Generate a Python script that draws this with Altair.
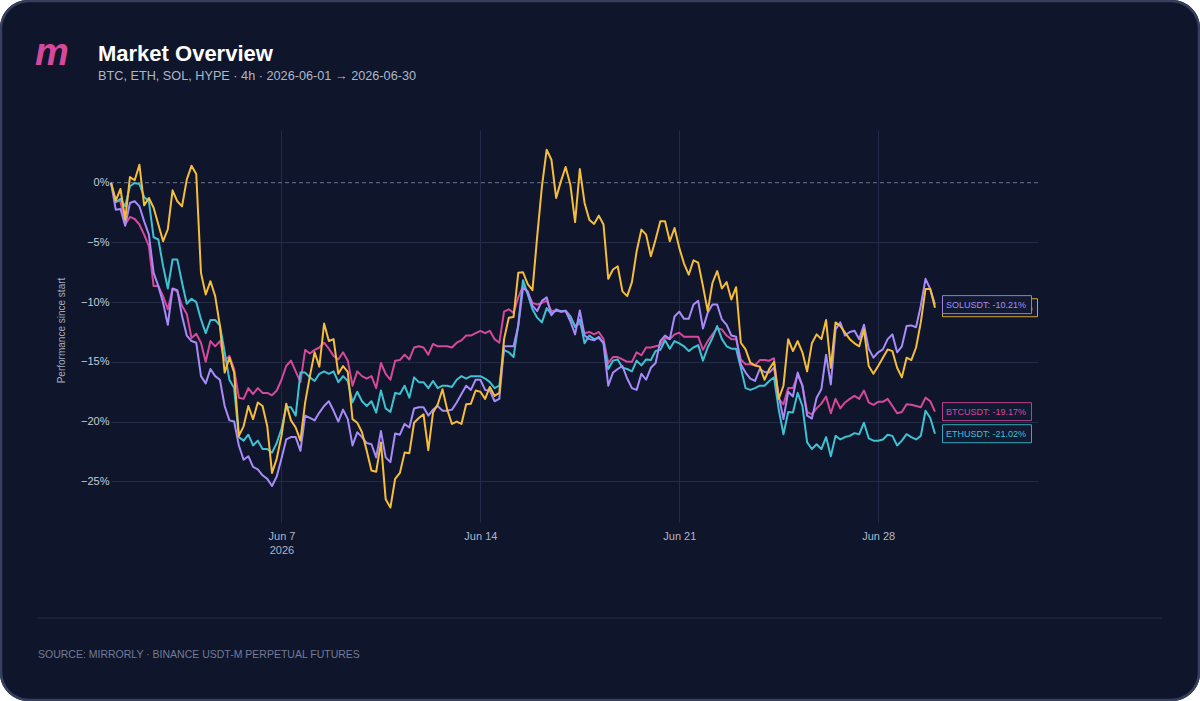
import altair as alt
import pandas as pd

series_names = ["BTCUSDT", "ETHUSDT", "SOLUSDT", "HYPEUSDT"]
series_colors = ["#d6489a", "#3ec1d3", "#a78bfa", "#f5bd3b"]
label_box_widths = [89, 89, 89, 95]
label_order = ["BTCUSDT", "ETHUSDT", "HYPEUSDT", "SOLUSDT"]

# performance since start, in percent, one value every 4h from 2026-06-01 00:00
btc = [0, -1.56, -1.56, -3.5, -2.87, -3.04, -3.5, -4.35, -5.32, -8.66, -8.66, -9.5, -10.6, -8.9, -9.1, -10.3, -11.0, -13.0, -12.65, -13.4, -15.0, -13.26, -13.7, -13.26, -14.9, -14.5, -15.6, -18.0, -18.1, -17.2, -17.7, -17.2, -17.6, -17.6, -17.8, -17.4,
       -16.5, -15.35, -14.9, -15.8, -16.7, -14.0, -14.3, -14.0, -13.8, -13.4, -13.9, -14.5, -14.8, -14.2, -14.9, -17.0, -15.8, -16.2, -16.4, -16.2, -17.2, -15.1, -16.0, -16.5, -14.9, -14.85, -14.4, -14.8, -13.8, -13.7, -13.8, -14.4, -13.5, -13.7, -13.7, -13.7,
       -13.8, -13.4, -13.2, -12.8, -12.8, -12.6, -12.4, -12.6, -12.4, -13.1, -13.4, -10.8, -10.6, -10.9, -9.6, -8.66, -9.2, -10.06, -10.2, -10.06, -9.9, -10.75, -10.7, -10.8, -10.7, -11.2, -12.0, -11.8, -12.6, -12.5, -12.7, -12.5, -13.1, -15.1, -14.6, -14.6,
       -14.8, -15.0, -15.0, -14.2, -14.45, -13.8, -13.8, -13.7, -13.6, -13.0, -13.1, -12.7, -12.56, -12.9, -12.9, -12.9, -12.9, -14.0, -13.26, -12.7, -12.2, -12.3, -12.8, -13.1, -13.1, -14.8, -15.2, -15.2, -15.3, -14.85, -14.85, -14.9, -14.7, -18.1, -18.55, -17.2,
       -17.2, -16.1, -17.0, -19.2, -19.4, -18.9, -18.5, -17.9, -19.3, -18.1, -18.9, -18.4, -18.1, -17.85, -18.1, -17.4, -18.4, -18.6, -18.35, -18.35, -18.1, -18.7, -19.3, -19.2, -18.55, -18.6, -18.7, -18.8, -18.0, -18.3, -19.17]

eth = [0, -1.64, -1.36, -1.98, -0.3, -0.03, -0.11, -1.2, -1.56, -4.57, -4.76, -6.99, -8.86, -6.43, -6.43, -8.38, -10.14, -9.72, -10.0, -11.45, -12.6, -11.5, -11.5, -11.95, -14.2, -16.5, -17.2, -21.3, -21.6, -21.1, -22.0, -21.6, -22.3, -22.3, -22.6, -21.8,
       -20.6, -18.8, -18.8, -19.5, -15.9, -15.9, -16.3, -16.6, -16.0, -15.8, -16.0, -15.8, -16.7, -16.2, -16.6, -18.4, -17.5, -18.3, -18.7, -18.3, -19.25, -17.4, -18.9, -19.2, -17.6, -17.7, -17.0, -18.0, -16.3, -16.7, -16.7, -17.2, -16.6, -17.2, -17.0, -17.0,
       -17.1, -16.5, -16.2, -16.4, -16.2, -16.2, -16.2, -16.4, -16.7, -17.2, -17.0, -14.0, -14.2, -14.6, -11.9, -8.16, -9.36, -10.6, -11.3, -11.7, -10.5, -11.0, -10.7, -10.75, -10.75, -11.2, -12.1, -11.45, -13.45, -12.8, -13.1, -13.0, -13.4, -15.6, -14.9, -14.8,
       -15.5, -15.6, -15.8, -14.9, -15.3, -14.8, -14.85, -14.1, -14.0, -13.2, -13.9, -13.26, -13.45, -13.7, -14.1, -13.8, -13.6, -14.9, -13.8, -13.0, -12.0, -13.1, -13.7, -13.9, -13.9, -15.5, -17.2, -17.35, -17.2, -17.0, -17.0, -16.6, -16.3, -19.0, -21.06, -19.2,
       -19.25, -17.6, -18.7, -21.75, -22.3, -21.9, -22.3, -21.3, -22.9, -21.2, -21.5, -21.3, -21.2, -20.97, -21.06, -20.1, -21.4, -21.6, -21.6, -21.5, -21.1, -21.2, -22.0, -21.6, -21.06, -21.3, -21.5, -21.2, -19.1, -19.7, -21.02]

sol = [0, -2.26, -2.2, -3.6, -1.7, -1.56, -1.98, -3.23, -4.35, -7.55, -8.66, -10.06, -11.9, -8.86, -9.0, -11.17, -12.8, -13.26, -13.4, -16.2, -16.8, -15.6, -16.2, -16.5, -18.7, -19.9, -20.0, -22.0, -23.2, -22.9, -23.8, -24.0, -24.5, -24.8, -25.4, -24.6,
       -23.1, -21.5, -21.3, -21.3, -22.45, -19.5, -19.7, -19.9, -19.25, -18.7, -18.3, -19.1, -20.0, -19.0, -19.8, -22.0, -20.9, -21.3, -21.8, -21.9, -23.0, -20.8, -23.0, -23.4, -21.0, -21.1, -20.2, -20.5, -18.9, -18.8, -18.8, -19.5, -19.0, -18.7, -19.1, -19.1,
       -19.0, -18.4, -17.7, -17.0, -17.35, -16.5, -16.5, -17.35, -17.4, -18.3, -18.1, -13.7, -13.7, -13.7, -12.0, -8.8, -9.1, -10.3, -10.75, -9.9, -9.6, -11.1, -10.6, -10.8, -10.75, -11.6, -12.7, -10.7, -12.8, -13.1, -13.2, -12.9, -13.45, -17.0, -15.9, -15.6,
       -15.35, -16.4, -17.2, -17.35, -16.0, -16.5, -15.5, -15.1, -13.26, -12.8, -13.1, -11.2, -10.8, -11.4, -11.4, -10.2, -9.9, -12.2, -10.9, -10.2, -10.2, -11.45, -11.9, -12.8, -12.9, -15.2, -15.9, -16.4, -16.6, -15.6, -15.85, -15.9, -15.5, -17.85, -19.8, -17.5,
       -17.9, -15.9, -17.0, -19.5, -19.75, -18.0, -17.3, -14.4, -16.9, -12.3, -11.7, -12.8, -12.5, -12.4, -13.1, -11.9, -13.9, -14.65, -14.2, -13.96, -13.1, -12.7, -14.2, -13.7, -12.0, -11.95, -12.1, -10.3, -8.05, -8.9, -10.21]

hype = [0, -1.5, -0.53, -3.1, 0.47, 0.2, 1.5, -1.9, -1.28, -2.1, -3.5, -4.9, -3.9, -0.64, -1.56, -1.98, 0.25, 1.42, 0.72, -7.55, -9.36, -8.25, -9.5, -12.0, -15.9, -14.65, -15.9, -21.2, -20.4, -18.7, -19.8, -18.4, -18.7, -20.4, -24.3, -23.1,
        -21.2, -18.5, -19.9, -20.5, -21.6, -18.4, -16.2, -14.2, -15.4, -11.8, -13.26, -13.1, -16.0, -15.35, -15.85, -19.8, -20.1, -20.9, -22.45, -24.1, -24.2, -21.75, -26.5, -27.2, -24.8, -24.3, -22.6, -22.65, -20.1, -19.7, -19.4, -22.4, -19.25, -18.55, -17.3, -19.0,
        -20.2, -20.0, -20.2, -18.55, -18.5, -17.4, -17.5, -18.1, -17.1, -17.85, -17.6, -13.1, -11.3, -11.25, -7.55, -7.5, -8.5, -9.0, -4.5, -0.3, 2.76, 1.92, -1.28, 0.11, 1.31, -0.17, -3.3, 1.14, -1.7, -3.1, -3.45, -2.76, -3.5, -8.05, -7.27, -7.0,
        -9.1, -9.5, -8.33, -5.74, -3.93, -4.35, -6.16, -4.76, -3.23, -3.23, -4.9, -3.8, -5.46, -6.77, -7.7, -6.5, -6.7, -8.66, -10.75, -8.4, -7.4, -8.86, -8.33, -9.78, -8.75, -13.4, -13.96, -15.07, -15.3, -15.4, -16.5, -15.6, -15.0, -18.1, -17.0, -13.1,
        -14.1, -13.26, -14.2, -15.8, -13.45, -12.7, -13.1, -11.5, -15.5, -11.7, -12.0, -12.56, -13.1, -13.45, -13.7, -12.3, -15.35, -16.0, -15.35, -14.65, -13.96, -14.1, -15.5, -16.3, -14.65, -14.85, -13.8, -11.7, -8.9, -8.9, -10.47]

y_ticks = [0, -0.05, -0.10, -0.15, -0.20, -0.25]
x_tick_days = [7, 14, 21, 28]

FONT = "Liberation Sans"
BG = "#0f162b"
GRID = "#232b46"

start = pd.Timestamp("2026-06-01 00:00")
series_values = {"BTCUSDT": btc, "ETHUSDT": eth, "SOLUSDT": sol, "HYPEUSDT": hype}
rows = []
end_rows = {}
for name in series_names:
    vals = series_values[name]
    for i, v in enumerate(vals):
        t = (start + pd.Timedelta(hours=4 * i)).strftime("%Y-%m-%dT%H:%M:%S")
        rows.append({"t": t, "v": v / 100.0, "s": name})
    end_rows[name] = {"t": rows[-1]["t"], "v": vals[-1] / 100.0,
                      "label": f"{name}: {vals[-1]:.2f}%"}
df = pd.DataFrame(rows)

one = alt.Data(values=[{}])

x_axis = alt.Axis(
    values=[alt.DateTime(year=2026, month=6, date=d) for d in x_tick_days],
    labelExpr="datum.index == 0 ? [timeFormat(datum.value, '%b %-d'), timeFormat(datum.value, '%Y')] : timeFormat(datum.value, '%b %-d')",
    title=None, domain=False, ticks=False, grid=True, gridColor=GRID, gridWidth=1,
    labelColor="#aeb5c7", labelFontSize=11, labelFont=FONT, labelPadding=8,
    labelLineHeight=14, labelFlush=False, labelOverlap=False,
)
y_axis = alt.Axis(
    values=y_ticks, format=".0%", title="Performance since start",
    titleX=-50, titleY=200, titleAngle=270, titleAlign="center", titleBaseline="middle",
    titleFontSize=10, titleFontWeight="normal", titleColor="#a3abbf", titleFont=FONT,
    labelColor="#c6ccd8", labelFontSize=11, labelFont=FONT, labelPadding=2,
    domain=False, ticks=False, grid=True, gridWidth=1,
    gridColor={"condition": {"test": "datum.value === 0", "value": "transparent"}, "value": GRID},
)

x_scale = alt.Scale(domain=[alt.DateTime(year=2026, month=6, date=1),
                            alt.DateTime(year=2026, month=7, date=3, hours=15)])
y_scale = alt.Scale(domain=[-0.2841, 0.0441], nice=False, zero=False)

corners = alt.Chart(one).mark_rect(fillOpacity=0, stroke="#ffffff", strokeWidth=40, cornerRadius=48).encode(
    x=alt.value(-131), x2=alt.value(1109), y=alt.value(-150), y2=alt.value(591))
border = alt.Chart(one).mark_rect(fillOpacity=0, stroke="#363f5e", strokeWidth=2.5, cornerRadius=28).encode(
    x=alt.value(-110), x2=alt.value(1088), y=alt.value(-129), y2=alt.value(570))
separator = alt.Chart(one).mark_rule(color="#252d48", strokeWidth=1).encode(
    x=alt.value(-74), x2=alt.value(1051), y=alt.value(488))
footer = alt.Chart(one).mark_text(
    text="SOURCE: MIRRORLY · BINANCE USDT-M PERPETUAL FUTURES", align="left", baseline="alphabetic",
    fontSize=10.5, color="#737b98", font=FONT).encode(x=alt.value(-73), y=alt.value(528))
title = alt.Chart(one).mark_text(
    text="Market Overview", align="left", baseline="alphabetic", fontSize=22, fontWeight="bold",
    color="#ffffff", font=FONT).encode(x=alt.value(-13), y=alt.value(-69))
subtitle = alt.Chart(one).mark_text(
    text="BTC, ETH, SOL, HYPE · 4h · 2026-06-01 → 2026-06-30", align="left", baseline="alphabetic",
    fontSize=12.7, color="#aeb6c8", font=FONT).encode(x=alt.value(-13), y=alt.value(-50))
logo = alt.Chart(one).mark_text(
    text="m", align="left", baseline="alphabetic", fontSize=38, fontWeight="bold", fontStyle="italic",
    color="#d6489a", font=FONT).encode(x=alt.value(-76), y=alt.value(-65))

zero_rule = alt.Chart(pd.DataFrame({"v": [0.0]})).mark_rule(
    color="#6c7590", strokeWidth=1, strokeDash=[4, 3]).encode(y=alt.Y("v:Q", scale=y_scale))

lines = alt.Chart(df).mark_line(strokeWidth=2, strokeJoin="round").encode(
    x=alt.X("t:T", scale=x_scale, axis=x_axis),
    y=alt.Y("v:Q", scale=y_scale, axis=y_axis),
    color=alt.Color("s:N", scale=alt.Scale(domain=series_names, range=series_colors), legend=None),
)

label_layers = []
for name in label_order:
    idx = series_names.index(name)
    col = series_colors[idx]
    w = label_box_widths[idx]
    d = pd.DataFrame([end_rows[name]])
    box = alt.Chart(d).mark_rect(
        fill="#121a31", stroke=col, strokeWidth=1, strokeOpacity=0.85,
        xOffset=7.5, x2Offset=7.5 + w, yOffset=-9, y2Offset=9).encode(
        x=alt.X("t:T"), x2=alt.X2("t"), y=alt.Y("v:Q"), y2=alt.Y2("v"))
    txt = alt.Chart(d).mark_text(
        align="left", baseline="middle", dx=11, dy=0.5, fontSize=9, font=FONT, color=col).encode(
        x=alt.X("t:T"), y=alt.Y("v:Q"), text="label:N")
    label_layers += [box, txt]

chart = alt.layer(
    corners, border, separator, footer, logo, title, subtitle, zero_rule, lines, *label_layers
).properties(
    width=927, height=392,
    padding={"left": 111, "top": 130, "right": 162, "bottom": 179},
    autosize=alt.AutoSizeParams(type="none"),
    background=BG,
).configure(font=FONT).configure_view(stroke="transparent", strokeWidth=0)

chart.save("out.html", embed_options={"renderer": "svg", "actions": False})
